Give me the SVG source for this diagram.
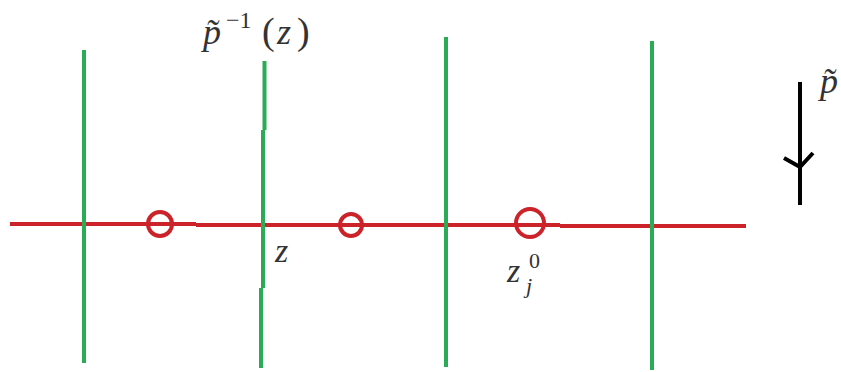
<svg xmlns="http://www.w3.org/2000/svg" width="841" height="372" viewBox="0 0 841 372">
<style>
.g{stroke:#2aab55;stroke-width:4;fill:none}
.r{stroke:#cc2229;stroke-width:4;fill:none}
.k{stroke:#000;stroke-width:4;fill:none}
.t{font-family:"Liberation Serif","DejaVu Serif",serif;font-style:italic;fill:#333}
.n{font-style:normal}
</style>
<rect width="841" height="372" fill="#fff"/>
<g id="axis">
<path class="r" d="M10 224 H196 M196 225 H560 M560 226 H746"/>
</g>
<g id="fibers">
<path class="g" d="M84 50 V363"/>
<path class="g" d="M264.5 61 V130 M263 130 V288 M261 288 V368"/>
<path class="g" d="M446 37 V367"/>
<path class="g" d="M652 41 V370"/>
</g>
<g id="points">
<circle class="r" cx="160" cy="224" r="12"/>
<circle class="r" cx="351" cy="225" r="11"/>
<circle class="r" cx="530" cy="223" r="14"/>
</g>
<g id="label-fiber">
<text class="t" font-size="36"><tspan x="203" y="44">p&#x0303;</tspan><tspan class="n" x="226" y="28" font-size="24">−1</tspan><tspan class="n" x="262" y="44" font-size="38">(</tspan><tspan x="277" y="44">z</tspan><tspan class="n" x="297" y="44" font-size="38">)</tspan></text>
</g>
<g id="label-z">
<text class="t" x="275" y="262" font-size="34">z</text>
</g>
<g id="label-zj0">
<text class="t" font-size="34"><tspan x="507" y="282">z</tspan><tspan class="n" x="529" y="268" font-size="22">0</tspan><tspan x="526" y="293" font-size="22">j</tspan></text>
</g>
<g id="map-arrow">
<path class="k" d="M800 82 V205"/>
<path class="k" d="M784 158 L800 167 L813 153"/>
<text class="t" x="820" y="93" font-size="36">p&#x0303;</text>
</g>
</svg>
